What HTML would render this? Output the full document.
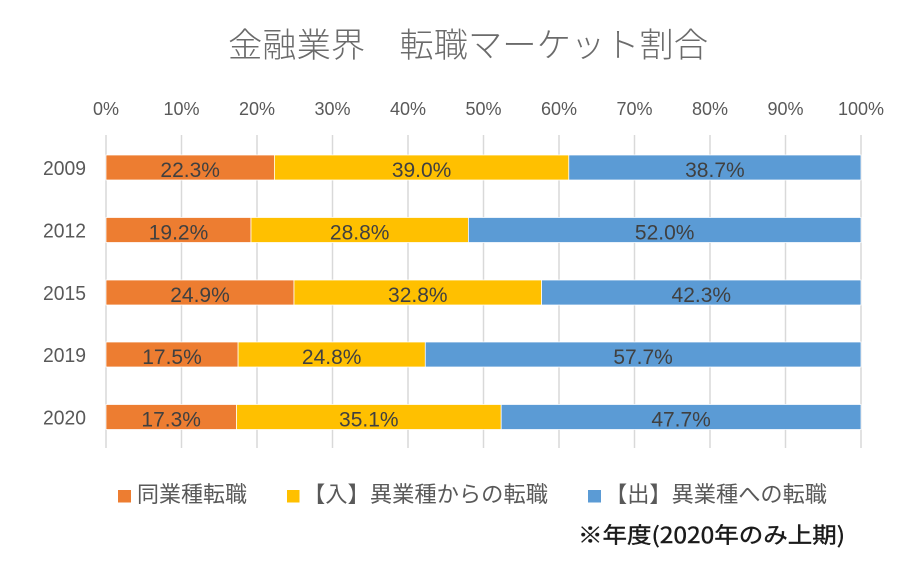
<!DOCTYPE html>
<html><head><meta charset="utf-8"><style>
html,body{margin:0;padding:0;background:#fff;}
svg{display:block;}
text{font-family:"Liberation Sans","Noto Sans CJK JP",sans-serif;}
.cjk{font-family:"Noto Sans CJK JP","Liberation Sans",sans-serif;}
</style></head><body>
<svg width="922" height="565" viewBox="0 0 922 565" xmlns="http://www.w3.org/2000/svg">
<rect width="922" height="565" fill="#fff"/>
<text class="cjk" x="228" y="57" font-size="34" fill="#6b6b6b" textLength="480" lengthAdjust="spacingAndGlyphs" font-weight="300">金融業界　転職マーケット割合</text>
<g stroke="#d9d9d9" stroke-width="1.5">
<line x1="106" y1="135" x2="106" y2="448"/><line x1="181.5" y1="135" x2="181.5" y2="448"/><line x1="257" y1="135" x2="257" y2="448"/><line x1="332.5" y1="135" x2="332.5" y2="448"/><line x1="408" y1="135" x2="408" y2="448"/><line x1="483.5" y1="135" x2="483.5" y2="448"/><line x1="559" y1="135" x2="559" y2="448"/><line x1="634.5" y1="135" x2="634.5" y2="448"/><line x1="710" y1="135" x2="710" y2="448"/><line x1="785.5" y1="135" x2="785.5" y2="448"/><line x1="861" y1="135" x2="861" y2="448"/>
</g>
<g font-size="18" fill="#595959" text-anchor="middle">
<text x="106" y="115">0%</text><text x="181.5" y="115">10%</text><text x="257" y="115">20%</text><text x="332.5" y="115">30%</text><text x="408" y="115">40%</text><text x="483.5" y="115">50%</text><text x="559" y="115">60%</text><text x="634.5" y="115">70%</text><text x="710" y="115">80%</text><text x="785.5" y="115">90%</text><text x="861" y="115">100%</text>
</g>
<g font-size="20" fill="#595959" text-anchor="end">
<text x="86" y="175" textLength="43" lengthAdjust="spacingAndGlyphs">2009</text><text x="86" y="237.5" textLength="43" lengthAdjust="spacingAndGlyphs">2012</text><text x="86" y="300" textLength="43" lengthAdjust="spacingAndGlyphs">2015</text><text x="86" y="362" textLength="43" lengthAdjust="spacingAndGlyphs">2019</text><text x="86" y="424.5" textLength="43" lengthAdjust="spacingAndGlyphs">2020</text>
</g>
<g stroke="#fff" stroke-width="0.75">
<rect x="106" y="155" width="168.4" height="25" fill="#ED7D31"/>
<rect x="274.4" y="155" width="294.4" height="25" fill="#FFC000"/>
<rect x="568.8" y="155" width="292.2" height="25" fill="#5B9BD5"/>
<rect x="106" y="217.5" width="145" height="25" fill="#ED7D31"/>
<rect x="251" y="217.5" width="217.4" height="25" fill="#FFC000"/>
<rect x="468.4" y="217.5" width="392.6" height="25" fill="#5B9BD5"/>
<rect x="106" y="280" width="188" height="25" fill="#ED7D31"/>
<rect x="294" y="280" width="247.6" height="25" fill="#FFC000"/>
<rect x="541.6" y="280" width="319.4" height="25" fill="#5B9BD5"/>
<rect x="106" y="342" width="132.1" height="25" fill="#ED7D31"/>
<rect x="238.1" y="342" width="187.2" height="25" fill="#FFC000"/>
<rect x="425.3" y="342" width="435.7" height="25" fill="#5B9BD5"/>
<rect x="106" y="404.5" width="130.5" height="25" fill="#ED7D31"/>
<rect x="236.5" y="404.5" width="264.7" height="25" fill="#FFC000"/>
<rect x="501.2" y="404.5" width="359.8" height="25" fill="#5B9BD5"/>
</g>
<g font-size="21" fill="#404040" text-anchor="middle">
<text x="190.2" y="177">22.3%</text><text x="421.6" y="177">39.0%</text><text x="714.9" y="177">38.7%</text>
<text x="178.5" y="239.5">19.2%</text><text x="359.7" y="239.5">28.8%</text><text x="664.7" y="239.5">52.0%</text>
<text x="200" y="302">24.9%</text><text x="417.8" y="302">32.8%</text><text x="701.3" y="302">42.3%</text>
<text x="172" y="364">17.5%</text><text x="331.7" y="364">24.8%</text><text x="643.1" y="364">57.7%</text>
<text x="171.2" y="426.5">17.3%</text><text x="368.8" y="426.5">35.1%</text><text x="681.1" y="426.5">47.7%</text>
</g>
<rect x="118" y="490" width="13" height="12.5" fill="#ED7D31"/>
<text class="cjk" x="137" y="502" font-size="22" fill="#595959" textLength="110" lengthAdjust="spacingAndGlyphs">同業種転職</text>
<rect x="287" y="490" width="12.5" height="12.5" fill="#FFC000"/>
<text class="cjk" x="303" y="502" font-size="22" fill="#595959" textLength="245" lengthAdjust="spacingAndGlyphs">【入】異業種からの転職</text>
<rect x="588" y="490" width="13" height="12.5" fill="#5B9BD5"/>
<text class="cjk" x="605" y="502" font-size="22" fill="#595959" textLength="222" lengthAdjust="spacingAndGlyphs">【出】異業種への転職</text>
<text class="cjk" x="578" y="543" font-size="22" fill="#1a1a1a" font-weight="400" stroke="#1a1a1a" stroke-width="0.4" textLength="267" lengthAdjust="spacingAndGlyphs">※年度(2020年のみ上期)</text>
</svg>
</body></html>
